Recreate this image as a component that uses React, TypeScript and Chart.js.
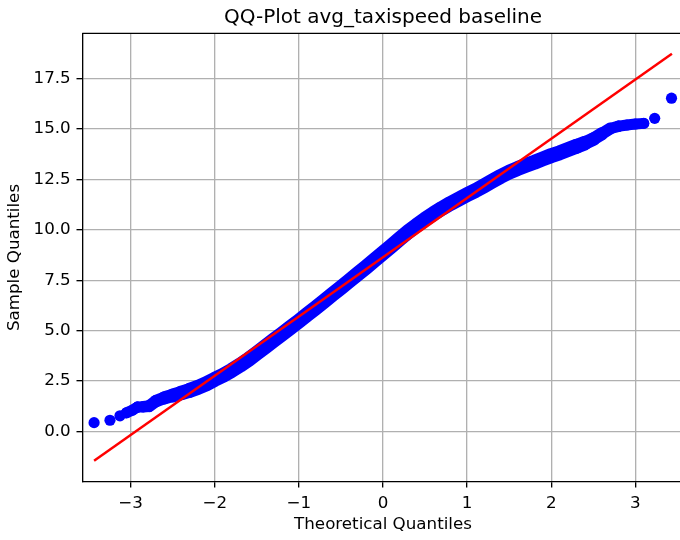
import { useEffect, useRef } from 'react';
import { Chart, registerables } from 'chart.js';

Chart.register(...registerables);

const chartTitle = 'QQ-Plot avg_taxispeed baseline';
const xTitle = 'Theoretical Quantiles';
const yTitle = 'Sample Quantiles';

const xTicks = [-3, -2, -1, 0, 1, 2, 3];
const yTicks = [0, 2.5, 5, 7.5, 10, 12.5, 15, 17.5];
const xLimits = [-3.575, 3.575];
const yLimits = [-2.5, 19.75];

// fitted reference line (end points)
const fitTheoretical = [-3.435, 3.435];
const fitSample = [-1.46, 18.74];

// dense run of sample quantiles (read along the centre of the blue band)
const denseTheoretical = [
  -3.05, -2.98, -2.92, -2.85, -2.78, -2.7, -2.6,
  -2.5, -2.4, -2.3, -2.2, -2.1, -2.0, -1.9, -1.8, -1.7, -1.6,
  -1.5, -1.4, -1.3, -1.2, -1.1, -1.0, -0.9, -0.8, -0.7, -0.6,
  -0.5, -0.4, -0.3, -0.2, -0.1, 0.0, 0.1, 0.2, 0.3, 0.4,
  0.5, 0.6, 0.7, 0.8, 0.9, 1.0, 1.1, 1.2, 1.3, 1.4,
  1.5, 1.6, 1.7, 1.8, 1.9, 2.0, 2.1, 2.2, 2.3, 2.4,
  2.5, 2.6, 2.7, 2.8, 2.9, 3.0, 3.1,
];
const denseSample = [
  0.92, 1.05, 1.2, 1.22, 1.25, 1.5, 1.66,
  1.78, 1.9, 2.03, 2.18, 2.36, 2.58, 2.78, 3.02, 3.28, 3.56,
  3.88, 4.2, 4.52, 4.83, 5.15, 5.47, 5.8, 6.13, 6.46, 6.8,
  7.13, 7.47, 7.81, 8.15, 8.5, 8.85, 9.2, 9.55, 9.9, 10.22,
  10.52, 10.8, 11.06, 11.3, 11.52, 11.74, 11.95, 12.18, 12.42, 12.65,
  12.86, 13.04, 13.2, 13.35, 13.52, 13.68, 13.82, 13.98, 14.14, 14.3,
  14.5, 14.76, 15.02, 15.14, 15.2, 15.25, 15.28,
];

// individually visible points in the tails
const tailTheoretical = [-3.435, -3.246, -3.127, -3.05, -2.98, -2.92, -2.85, -2.78, 2.8, 2.9, 3.0, 3.1, 3.23, 3.43];
const tailSample = [0.43, 0.55, 0.77, 0.92, 1.05, 1.2, 1.22, 1.25, 15.14, 15.2, 15.25, 15.28, 15.53, 16.53];

const FONT = 'DejaVu Sans';
const BLUE = '#0000ff';
const RED = '#ff0000';

export default function App() {
  const ref = useRef<HTMLCanvasElement>(null);

  useEffect(() => {
    const canvas = ref.current;
    if (!canvas) return;

    const framePlugin = {
      id: 'frame',
      afterDraw(c: any) {
        const { ctx, chartArea } = c;
        ctx.save();
        ctx.strokeStyle = '#000';
        ctx.lineWidth = 1.33;
        ctx.beginPath();
        ctx.moveTo(chartArea.left, chartArea.top);
        ctx.lineTo(chartArea.right, chartArea.top);
        ctx.lineTo(chartArea.right, chartArea.bottom);
        ctx.stroke();
        ctx.fillStyle = '#000';
        ctx.font = `20px "${FONT}"`;
        ctx.textAlign = 'center';
        ctx.textBaseline = 'alphabetic';
        ctx.fillText(chartTitle, (chartArea.left + chartArea.right) / 2, chartArea.top - 10);
        ctx.restore();
      },
    };

    const bandWidth = (m: number) => {
      let w = 15;
      if (m < -2.3) w = 15 - ((-2.3 - m) / 0.6) * 4;
      if (m > 2.3) w = 15 - ((m - 2.3) / 0.5) * 4;
      return Math.max(11, w);
    };

    const chart = new Chart(canvas, {
      type: 'scatter',
      data: {
        datasets: [
          {
            type: 'line',
            label: 'fit',
            data: fitTheoretical.map((x, i) => ({ x, y: fitSample[i] })),
            borderColor: RED,
            borderWidth: 2.5,
            pointRadius: 0,
            order: 0,
          } as any,
          {
            type: 'scatter',
            label: 'tails',
            data: tailTheoretical.map((x, i) => ({ x, y: tailSample[i] })),
            pointRadius: 5.6,
            backgroundColor: BLUE,
            borderWidth: 0,
            order: 1,
          } as any,
          {
            type: 'line',
            label: 'sample',
            data: denseTheoretical.map((x, i) => ({ x, y: denseSample[i] })),
            borderColor: BLUE,
            borderWidth: 15,
            borderCapStyle: 'round',
            borderJoinStyle: 'round',
            pointRadius: 0,
            tension: 0,
            order: 2,
            segment: {
              borderWidth: (ctx: any) => bandWidth((ctx.p0.parsed.x + ctx.p1.parsed.x) / 2),
            },
          } as any,
        ],
      },
      options: {
        animation: false,
        responsive: false,
        devicePixelRatio: 1,
        layout: { padding: { left: 0, top: 33.3, right: 6.3, bottom: 0 } },
        plugins: {
          legend: { display: false },
          tooltip: { enabled: false },
          title: { display: false },
        },
        scales: {
          x: {
            type: 'linear',
            min: xLimits[0],
            max: xLimits[1],
            afterBuildTicks: (s: any) => {
              s.ticks = xTicks.map((v) => ({ value: v }));
            },
            afterFit: (s: any) => {
              s.height = 540 - 481.7;
            },
            grid: { color: '#b0b0b0', lineWidth: 1.33, tickColor: '#000', tickLength: 5.8, tickWidth: 1.33 },
            border: { color: '#000', width: 1.33 },
            ticks: {
              color: '#000',
              font: { family: FONT, size: 16.7 },
              padding: 5.8,
              autoSkip: false,
              maxRotation: 0,
              callback: (v: any) => (Number(v) < 0 ? '\u2212' + Math.abs(Number(v)) : String(v)),
            },
            title: {
              display: true,
              text: xTitle,
              color: '#000',
              font: { family: FONT, size: 16.7 },
              padding: { top: 0, bottom: 5 },
            },
          },
          y: {
            type: 'linear',
            min: yLimits[0],
            max: yLimits[1],
            afterBuildTicks: (s: any) => {
              s.ticks = yTicks.map((v) => ({ value: v }));
            },
            afterFit: (s: any) => {
              s.width = 82.3;
            },
            grid: { color: '#b0b0b0', lineWidth: 1.33, tickColor: '#000', tickLength: 5.8, tickWidth: 1.33 },
            border: { color: '#000', width: 1.33 },
            ticks: {
              color: '#000',
              font: { family: FONT, size: 16.7 },
              padding: 5.8,
              autoSkip: false,
              callback: (v: any) => Number(v).toFixed(1),
            },
            title: {
              display: true,
              text: yTitle,
              color: '#000',
              font: { family: FONT, size: 16.7 },
              padding: { top: 5, bottom: 0 },
            },
          },
        },
      },
      plugins: [framePlugin],
    } as any);

    return () => chart.destroy();
  }, []);

  return (
    <div style={{ position: 'fixed', left: 0, top: 0, width: 690, height: 540, background: '#fff' }}>
      <canvas ref={ref} width={690} height={540} style={{ display: 'block' }} />
    </div>
  );
}
